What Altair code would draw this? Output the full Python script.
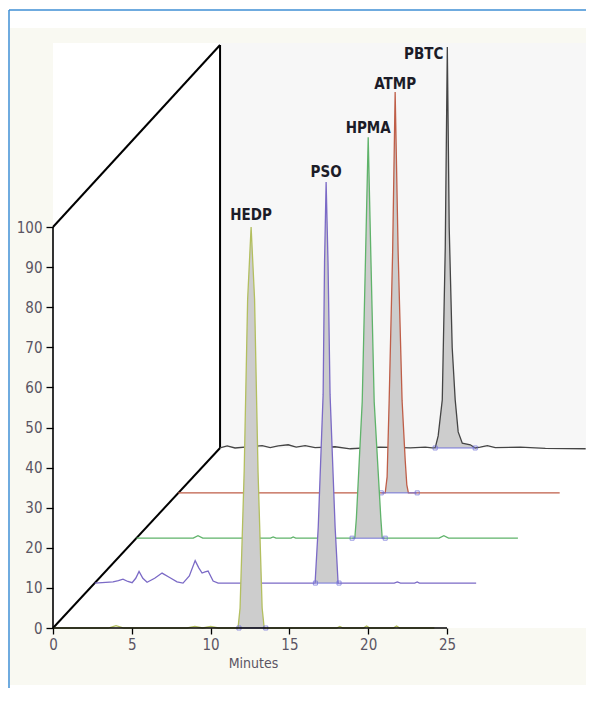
import altair as alt
import pandas as pd

# ---------------- data ----------------
trace_names = ["HEDP", "PSO", "HPMA", "ATMP", "PBTC"]
depth_dx = [0.0, 2.65, 5.3, 7.95, 10.6]      # minutes shift of each trace (depth)
depth_dy = [0.0, 11.2, 22.4, 33.7, 44.9]     # signal shift of each trace (depth)

hedp_t = [0, 3.5, 4.0, 4.5, 8.5, 9.0, 9.5, 10.0, 10.5, 11.74, 11.87, 12.13, 12.35, 12.57,
          12.79, 13.01, 13.27, 13.4, 14.0, 18.0, 18.2, 18.4, 19.7, 19.9, 20.1, 21.6, 21.8, 22.0, 24.2]
hedp_s = [0, 0, 0.6, 0, 0, 0.4, 0, 0.4, 0, 0, 5, 39, 82, 100,
          82, 39, 5, 0, 0, 0, 0.4, 0, 0, 0.5, 0, 0, 0.5, 0, 0]

pso_t = [0, 1.16, 1.5, 1.79, 2.1, 2.37, 2.6, 2.81, 3.05, 3.32, 3.8, 4.27, 4.75, 5.22, 5.6, 6.0,
         6.37, 6.6, 6.81, 7.0, 7.19, 7.51, 7.83,
         13.98, 14.18, 14.49, 14.58, 14.68, 14.8, 14.93, 15.25, 15.44,
         19.0, 19.2, 19.4, 20.3, 20.46, 20.6, 24.2]
pso_s = [0, 0.3, 0.6, 1.0, 0.4, 0.1, 1.2, 2.9, 1.2, 0.2, 1.2, 2.5, 1.4, 0.3, 0, 1.8,
         5.6, 3.8, 2.5, 2.8, 3.0, 0.5, 0,
         0, 14, 47, 80, 100, 80, 47, 14, 0,
         0, 0.3, 0, 0, 0.3, 0, 0]

hpma_t = [0, 3.6, 3.9, 4.2, 8.5, 8.67, 8.85, 9.8, 9.94, 10.1,
          13.85, 13.95, 14.32, 14.53, 14.7, 14.87, 15.08, 15.5, 15.59,
          19.2, 19.5, 19.8, 24.2]
hpma_s = [0, 0, 0.6, 0, 0, 0.3, 0, 0, 0.3, 0,
          0, 5, 34, 70, 100, 70, 34, 5, 0,
          0, 0.6, 0, 0]

atmp_t = [0, 13.13, 13.25, 13.38, 13.6, 13.76, 13.95, 14.2, 14.4, 14.5, 14.6, 24.2]
atmp_s = [0, 0, 4, 23, 60, 100, 60, 23, 8, 2, 0, 0]

pbtc_t = [0, 0.45, 0.95, 2.67, 3.18, 3.69, 4.32, 4.83, 5.4, 6.03, 7.3, 8.26, 10.16, 12.07,
          13.02, 13.46, 13.65, 13.84, 14.10, 14.29, 14.42, 14.54, 14.73, 14.92, 15.11,
          15.37, 15.88, 16.19, 16.51, 16.96, 17.46, 19.05, 20.64, 23.2]
pbtc_s = [0, 0.5, 0, 0.6, 0.1, 0.5, 0.8, 0.2, 0.6, 0.1, 0.3, -0.2, 0.2, 0,
          0.2, 0, 0, 3, 12, 50, 100, 55, 25, 12, 4,
          1.2, 0.8, 0, 0.2, 0.6, 0.1, 0.2, -0.1, -0.2]

trace_t = [hedp_t, pso_t, hpma_t, atmp_t, pbtc_t]
trace_s = [hedp_s, pso_s, hpma_s, atmp_s, pbtc_s]

peak_start = [11.74, 13.98, 13.85, 13.13, 13.65]   # shaded peak range
peak_end = [13.4, 15.44, 15.59, 14.6, 16.19]
marker_left = [11.8, 14.0, 13.68, 12.88, 13.65]    # integration marks
marker_right = [13.5, 15.5, 15.78, 15.16, 16.19]
apex_t = [12.57, 14.68, 14.7, 13.76, 14.42]
apex_s = [100, 100, 100, 100, 100]

x_ticks = [0, 5, 10, 15, 20, 25]
y_ticks = list(range(0, 101, 10))
wall_corner = (10.6, 44.9)
wall_top = 145.4

# ---------------- styles ----------------
W, H = 533, 585
X_MAX, Y_MAX = W / 15.76, 145.9
trace_colors = ["#b3bf5f", "#7b6ac6", "#5fb36a", "#bf5e48", "#454545"]
label_lift = [1.8, 1.2, 1.0, 0.8, -3.0]
FONT = "Liberation Sans Narrow, Arial Narrow, DejaVu Sans Condensed, sans-serif"
TXT = "#5b5563"

xs = alt.Scale(domain=[0, X_MAX], nice=False, zero=False)
ys = alt.Scale(domain=[0, Y_MAX], nice=False, zero=False)

x_axis = alt.Axis(
    values=x_ticks, domain=False, grid=False, tickColor="black", tickSize=6,
    tickWidth=1.3, labelFont=FONT, labelFontSize=15, labelColor=TXT,
    labelPadding=3, labelFlush=False, labelOverlap=False,
    title="Minutes", titleFont=FONT, titleFontSize=14,
    titleFontWeight="normal", titleColor=TXT, titleX=200, titlePadding=4,
    zindex=1)
y_axis = alt.Axis(
    values=y_ticks, domain=False, grid=False, tickColor="black", tickSize=7,
    tickWidth=1.3, labelFont=FONT, labelFontSize=15, labelColor=TXT,
    labelPadding=4, labelFlush=False, labelOverlap=False, title=None, zindex=1)


def X(f):
    return alt.X(f, type="quantitative", scale=xs, axis=x_axis, title="Minutes")


def Y(f):
    return alt.Y(f, type="quantitative", scale=ys, axis=y_axis, title=None)


one = pd.DataFrame({"k": [0]})

cream = alt.Chart(one).mark_rect(color="#f9f9f2").encode(
    x=alt.value(-43), x2=alt.value(W), y=alt.value(-15), y2=alt.value(642))
frame_v = alt.Chart(one).mark_rule(color="#3f8fd4", strokeWidth=1.5).encode(
    x=alt.value(-44), y=alt.value(-33), y2=alt.value(650))
frame_h = alt.Chart(one).mark_rule(color="#3f8fd4", strokeWidth=1.5).encode(
    x=alt.value(-44), x2=alt.value(W), y=alt.value(-33))
white = alt.Chart(one).mark_rect(color="white").encode(
    x=alt.value(0), x2=alt.value(W), y=alt.value(0), y2=alt.value(H))

wall_df = pd.DataFrame({"x0": [wall_corner[0]], "x1": [X_MAX],
                        "y0": [wall_corner[1]], "y1": [Y_MAX]})
wall = alt.Chart(wall_df).mark_rect(color="#f7f7f7").encode(
    x=X("x0"), x2="x1:Q", y=Y("y0"), y2="y1:Q")

wall_lines_df = pd.DataFrame({
    "edge": ["bottom", "bottom", "top", "top", "back", "back"],
    "x": [0, wall_corner[0], 0, wall_corner[0], wall_corner[0], wall_corner[0]],
    "y": [0, wall_corner[1], 100, wall_top, wall_corner[1], wall_top],
})
wall_lines = alt.Chart(wall_lines_df).mark_line(color="black", strokeWidth=2).encode(
    x=X("x"), y=Y("y"), detail="edge:N")

axis_df = pd.DataFrame({"x": [0, 0], "x2": [x_ticks[-1], 0], "y": [0, 0], "y2": [0, y_ticks[-1]]})
axis_lines = alt.Chart(axis_df).mark_rule(color="black", strokeWidth=1.6).encode(
    x=X("x"), x2="x2:Q", y=Y("y"), y2="y2:Q")

layers = [cream, frame_v, frame_h, white, wall, wall_lines]

for i in reversed(range(5)):
    dx, dy = depth_dx[i], depth_dy[i]
    df = pd.DataFrame({"t": trace_t[i], "s": trace_s[i]})
    df["x"] = df["t"] + dx
    df["y"] = df["s"] + dy
    df["base"] = dy
    pk = df[(df["t"] >= peak_start[i]) & (df["t"] <= peak_end[i])]
    area = alt.Chart(pk).mark_area(color="#cdcdcd", opacity=1).encode(
        x=X("x"), y=Y("y"), y2="base:Q")
    line = alt.Chart(df).mark_line(color=trace_colors[i], strokeWidth=1.3).encode(
        x=X("x"), y=Y("y"))
    mk = pd.DataFrame({"x": [marker_left[i] + dx, marker_right[i] + dx], "y": [dy, dy]})
    mrule = alt.Chart(pd.DataFrame({"x": [marker_left[i] + dx], "x2": [marker_right[i] + dx],
                                    "y": [dy]})).mark_rule(color="#7474d8", strokeWidth=1).encode(
        x=X("x"), x2="x2:Q", y=Y("y"))
    mpts = alt.Chart(mk).mark_point(shape="square", size=16, filled=False,
                                    color="#6a6ad6", strokeWidth=1).encode(x=X("x"), y=Y("y"))
    layers += [area, line, mrule, mpts]

layers.append(axis_lines)

lab = pd.DataFrame({
    "name": trace_names,
    "x": [apex_t[i] + depth_dx[i] for i in range(5)],
    "y": [apex_s[i] + depth_dy[i] + label_lift[i] for i in range(5)],
})
labels_c = alt.Chart(lab.iloc[:4]).mark_text(
    font=FONT, fontSize=15, fontWeight="bold", color="#1c1c28",
    align="center", baseline="alphabetic").encode(x=X("x"), y=Y("y"), text="name:N")
labels_r = alt.Chart(lab.iloc[4:]).mark_text(
    font=FONT, fontSize=15, fontWeight="bold", color="#1c1c28",
    align="right", baseline="alphabetic", dx=-4).encode(x=X("x"), y=Y("y"), text="name:N")
layers += [labels_c, labels_r]

chart = alt.layer(*layers).properties(
    width=W, height=H,
    padding={"left": 45, "top": 35, "right": 0, "bottom": 60},
    autosize=alt.AutoSizeParams(type="none"),
    background="white",
).configure_view(stroke=None, fill=None)

chart.save("out.html", embed_options={"renderer": "svg", "actions": False})
